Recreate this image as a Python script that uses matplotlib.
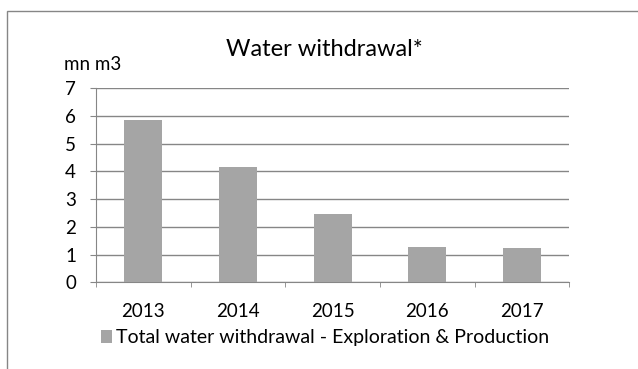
import numpy as np
import matplotlib.pyplot as plt
from matplotlib.patches import Rectangle, Patch

years = ["2013", "2014", "2015", "2016", "2017"]
withdrawal = [5.86, 4.15, 2.47, 1.26, 1.22]
series_name = "Total water withdrawal - Exploration & Production"

plt.rcParams['font.family'] = ['Lato', 'DejaVu Sans']
bar_color = "#A5A5A5"
line_color = "#868686"

fig = plt.figure(figsize=(6.38, 3.69), dpi=100)
W, H = 638, 369
ax = fig.add_axes([96 / W, 1 - 282.3 / H, (569.3 - 96) / W, (282.3 - 88) / H])

x = np.arange(len(years))
ax.bar(x, withdrawal, width=0.4, color=bar_color, zorder=3)

ax.set_xlim(-0.5, len(years) - 0.5)
ax.set_ylim(0, 7)
ax.set_yticks(range(0, 8))
ax.set_xticks(x)
ax.set_xticklabels(years)
ax.set_xticks(np.arange(-0.5, len(years)), minor=True)
ax.tick_params(axis="x", which="major", length=0, pad=15, labelsize=13.5)
ax.tick_params(axis="x", which="minor", length=3.6, color=line_color, direction="out")
ax.tick_params(axis="y", length=4.3, color=line_color, labelsize=13.5, pad=10)
ax.grid(axis="y", color=line_color, linewidth=1, zorder=0)

for s in ["top", "right"]:
    ax.spines[s].set_visible(False)
ax.spines["left"].set_color(line_color)
ax.spines["bottom"].set_color(line_color)

fig.text(324 / W, 1 - 56 / H, "Water withdrawal*", ha="center", va="baseline", fontsize=17)
fig.text(64 / W, 1 - 70 / H, "mn m3", ha="left", va="baseline", fontsize=13.5)

handles = [Patch(facecolor=bar_color, edgecolor="none")]
fig.legend(handles, [series_name], loc="center", bbox_to_anchor=(325 / W, 1 - 338 / H),
           frameon=False, fontsize=14, handlelength=0.6, handleheight=0.6,
           handletextpad=0.2, borderaxespad=0)

# outer chart frame (only top/left visible in the crop)
fig.patches.append(Rectangle((7 / W, -0.1), 1.1, 1 - 11 / H + 0.1, transform=fig.transFigure,
                             fill=False, edgecolor=line_color, linewidth=1))

plt.savefig("out.png", dpi=100)
